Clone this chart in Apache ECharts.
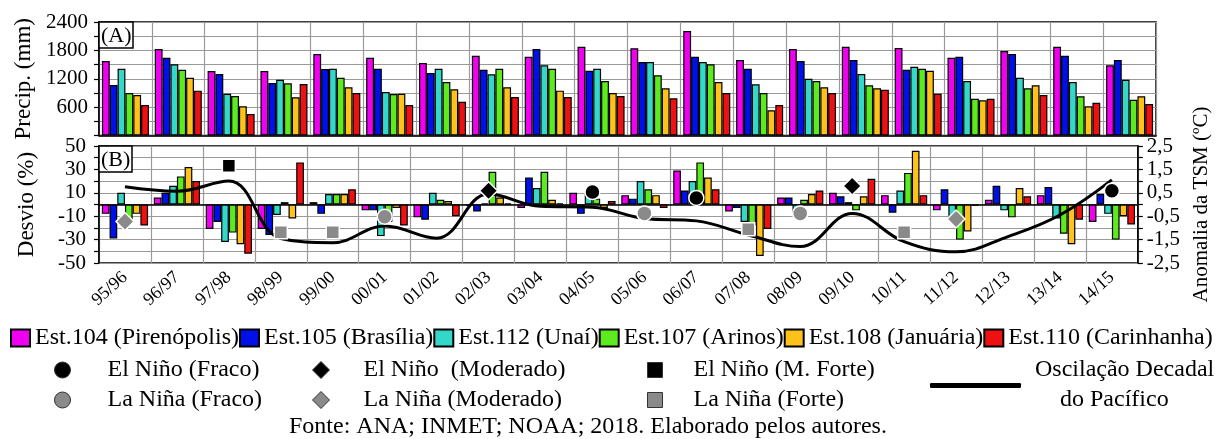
<!DOCTYPE html>
<html><head><meta charset="utf-8">
<script src="https://cdn.jsdelivr.net/npm/echarts@6/dist/echarts.min.js"></script>
<style>html,body{margin:0;padding:0;background:#fff}#c{width:1220px;height:439px}</style>
</head><body><div id="c"></div>
<script>
const categories = ['95/96','96/97','97/98','98/99','99/00','00/01','01/02','02/03','03/04','04/05','05/06','06/07','07/08','08/09','09/10','10/11','11/12','12/13','13/14','14/15'];
const stationNames = ['Est.104 (Pirenópolis)','Est.105 (Brasília)','Est.112 (Unaí)','Est.107 (Arinos)','Est.108 (Januária)','Est.110 (Carinhanha)'];
const stationColors = ['#F000F0','#0010E8','#33D8C8','#5CEB1E','#FFC21A','#EE1111'];

// Panel A: precipitation (mm)
const precip104 = [1575,1829,1364,1364,1723,1645,1533,1687,1666,1877,1843,2209,1596,1829,1877,1850,1645,1786,1877,1484];
const precip105 = [1068,1645,1300,1110,1406,1412,1321,1391,1829,1370,1554,1666,1412,1575,1596,1391,1666,1723,1687,1596];
const precip112 = [1412,1505,884,1180,1412,920,1412,1294,1484,1412,1554,1554,1082,1201,1300,1455,1152,1222,1131,1180];
const precip107 = [898,1391,835,1103,1222,877,1131,1412,1412,1152,1272,1505,898,1152,1061,1412,778,998,829,757];
const precip108 = [856,1222,617,807,1019,884,977,1019,948,898,998,1131,532,1019,998,1370,744,1061,617,829];
const precip110 = [645,948,455,1089,898,645,715,814,814,835,786,898,645,898,968,884,778,856,693,666];

// Panel B: deviation (%)
const desvio104 = [-8,6,-21,-21,2,-5,-11,-1,-3,10,8,29,-6,6,10,8,-5,4,8,-15];
const desvio105 = [-29,10,-15,-26,-8,-5,-13,-6,23,-8,5,12,-3,6,7,-7,13,16,15,9];
const desvio112 = [10,16,-32,-9,9,-27,10,1,14,9,20,20,-15,-7,2,12,-12,-5,-12,-8];
const desvio107 = [-15,24,-24,2,9,-15,4,28,28,5,13,36,-18,4,-5,27,-30,-11,-25,-30];
const desvio108 = [-8,32,-34,-12,9,-3,3,6,4,-3,8,23,-44,9,7,46,-23,14,-34,-10];
const desvio110 = [-18,20,-42,36,13,-18,-10,1,1,3,-3,13,-21,12,22,8,-1,7,-13,-17];

// SST anomaly markers (°C, right axis)
const elNinoFraco     = [null,null,null,null,null,null,null,null,null,0.53,null,0.28,null,null,null,null,null,null,null,0.59];
const elNinoModerado  = [null,null,null,null,null,null,null,0.59,null,null,null,null,null,null,0.79,null,null,null,null,null];
const elNinoMForte    = [null,null,1.66,null,null,null,null,null,null,null,null,null,null,null,null,null,null,null,null,null];
const laNinaFraco     = [null,null,null,null,null,-0.52,null,null,null,null,-0.38,null,null,-0.38,null,null,null,null,null,null];
const laNinaModerado  = [-0.73,null,null,null,null,null,null,null,null,null,null,null,null,null,null,null,-0.62,null,null,null];
const laNinaForte     = [null,null,null,-1.19,-1.19,null,null,null,null,null,null,null,-1.06,null,null,-1.19,null,null,null,null];
// Pacific Decadal Oscillation (°C)
const pdo = [0.76,0.57,1.0,-1.45,-1.63,-0.92,-1.44,0.45,-0.08,-0.12,-0.6,-0.7,-1.3,-1.8,-0.38,-1.59,-2.02,-1.37,-0.45,1.05];

const precipTicks = [600,1200,1800,2400];
const desvioTicks = [-50,-30,-10,10,30,50];
const tsmTicks = [-2.5,-1.5,-0.5,0.5,1.5,2.5];

const FONT = '"Liberation Serif", "Times New Roman", Times, serif';
const precipData = [precip104,precip105,precip112,precip107,precip108,precip110];
const desvioData = [desvio104,desvio105,desvio112,desvio107,desvio108,desvio110];

const series = [];
stationNames.forEach((n,i)=>{
  series.push({name:n,type:'bar',xAxisIndex:0,yAxisIndex:0,data:precipData[i],
    barGap:'0%',barCategoryGap:'11%',
    itemStyle:{color:stationColors[i],borderColor:'#000',borderWidth:1.2}});
});
stationNames.forEach((n,i)=>{
  series.push({name:n,type:'bar',xAxisIndex:1,yAxisIndex:1,data:desvioData[i],
    barGap:'0%',barCategoryGap:'11%',
    itemStyle:{color:stationColors[i],borderColor:'#000',borderWidth:1.2}});
});
series.push({name:'Oscilação Decadal do Pacífico',type:'line',xAxisIndex:1,yAxisIndex:2,data:pdo,
  smooth:0.4,symbol:'none',lineStyle:{color:'#000',width:3},itemStyle:{color:'#000'},z:5});
const markerDefs = [
  ['El Niño (Fraco)',elNinoFraco,'circle',15,'#000'],
  ['El Niño  (Moderado)',elNinoModerado,'diamond',18,'#000'],
  ['El Niño (M. Forte)',elNinoMForte,'rect',13,'#000'],
  ['La Niña (Fraco)',laNinaFraco,'circle',15,'#8a8a8a'],
  ['La Niña (Moderado)',laNinaModerado,'diamond',18,'#8a8a8a'],
  ['La Niña (Forte)',laNinaForte,'rect',13,'#8a8a8a']
];
markerDefs.forEach(m=>{
  series.push({name:m[0],type:'scatter',xAxisIndex:1,yAxisIndex:2,data:m[1],symbol:m[2],symbolSize:m[3],
    itemStyle:{color:m[4],borderColor:'#fff',borderWidth:1.5,opacity:1},z:10});
});

const gridLine = {show:true,lineStyle:{color:'#9a9a9a',width:1.2}};
const axisBlack = {show:true,lineStyle:{color:'#000',width:1.5}};
const tickBlack = {show:true,length:5,lineStyle:{color:'#000',width:1.2}};

const legendText = {fontFamily:FONT,fontSize:24,color:'#000'};
const markerLegend = (name,left,top,w,h,pad)=>({
  data:[name],left:left,top:top,orient:'horizontal',padding:0,itemWidth:w,itemHeight:h,
  selectedMode:false,itemStyle:{borderColor:'#333',borderWidth:1},
  textStyle:Object.assign({},legendText,{padding:[0,0,0,pad]})
});

const option = {
  animation:false,
  backgroundColor:'#fff',
  title:[
    {text:'(A)',left:99,top:22,padding:[3,2,1,2],borderColor:'#000',borderWidth:1.5,backgroundColor:'#fff',
      textStyle:{fontFamily:FONT,fontSize:22,fontWeight:'normal',color:'#000'}},
    {text:'(B)',left:99,top:146,padding:[3,2,1,2],borderColor:'#000',borderWidth:1.5,backgroundColor:'#fff',
      textStyle:{fontFamily:FONT,fontSize:22,fontWeight:'normal',color:'#000'}},
    {text:'Fonte: ANA; INMET; NOAA; 2018. Elaborado pelos autores.',left:289,top:415,padding:0,
      textStyle:{fontFamily:FONT,fontSize:24,fontWeight:'normal',color:'#000'}}
  ],
  legend:[
    {data:stationNames,left:10,top:326,padding:0,itemGap:0,itemWidth:19,itemHeight:17,selectedMode:false,
      icon:'rect',textStyle:legendText},
    markerLegend('El Niño (Fraco)',54,358,16,16,32),
    markerLegend('La Niña (Fraco)',54,388,16,16,32),
    markerLegend('El Niño  (Moderado)',312,358,17,17,29),
    markerLegend('La Niña (Moderado)',312,388,17,17,29),
    markerLegend('El Niño (M. Forte)',647,358,15,15,26),
    markerLegend('La Niña (Forte)',647,388,15,15,26),
    {data:[{name:'Oscilação Decadal do Pacífico',icon:'roundRect'}],left:930,top:383,padding:0,itemWidth:91,itemHeight:5,
      selectedMode:false,formatter:()=>'',itemStyle:{color:'#000',borderWidth:0},textStyle:legendText}
  ],
  graphic:[
    {type:'text',left:1035,top:358,style:{text:'Oscilação Decadal',fontFamily:FONT,fontSize:24,fill:'#000'}},
    {type:'text',left:1060,top:388,style:{text:'do Pacífico',fontFamily:FONT,fontSize:24,fill:'#000'}}
  ],
  grid:[
    {left:99,right:64,top:22,height:113.5,show:true,borderColor:'#000',borderWidth:1.5,backgroundColor:'transparent'},
    {left:99,right:64,top:146,height:117,show:true,borderColor:'#000',borderWidth:1.5,backgroundColor:'transparent'}
  ],
  xAxis:[
    {type:'category',gridIndex:0,data:categories,axisLine:axisBlack,axisTick:{show:false},axisLabel:{show:false},
      splitLine:gridLine},
    {type:'category',gridIndex:1,data:categories,axisLine:axisBlack,axisTick:{show:false},splitLine:gridLine,
      axisLabel:{show:true,interval:0,rotate:42,margin:12,fontFamily:FONT,fontSize:18,color:'#000'}}
  ],
  yAxis:[
    {type:'value',gridIndex:0,min:0,max:2400,interval:300,name:'Precip. (mm)',nameLocation:'middle',nameGap:61,
      nameTextStyle:{fontFamily:FONT,fontSize:23,color:'#000'},
      axisLine:axisBlack,axisTick:tickBlack,splitLine:gridLine,
      axisLabel:{margin:11,fontFamily:FONT,fontSize:21,color:'#000',
        formatter:v=>precipTicks.indexOf(v)>=0?String(v):''}},
    {type:'value',gridIndex:1,min:-50,max:50,interval:10,name:'Desvio (%)',nameLocation:'middle',nameGap:61,
      nameTextStyle:{fontFamily:FONT,fontSize:23,color:'#000'},
      axisLine:axisBlack,axisTick:tickBlack,splitLine:gridLine,
      axisLabel:{margin:13,fontFamily:FONT,fontSize:21,color:'#000',
        formatter:v=>desvioTicks.indexOf(Math.round(v))>=0?String(Math.round(v)):''}},
    {type:'value',gridIndex:1,position:'right',min:-2.5,max:2.5,interval:0.5,name:'Anomalia da TSM (ºC)',
      nameLocation:'middle',nameGap:42,nameRotate:90,
      nameTextStyle:{fontFamily:FONT,fontSize:21,color:'#000'},
      axisLine:axisBlack,axisTick:tickBlack,splitLine:{show:false},
      axisLabel:{margin:9,fontFamily:FONT,fontSize:21,color:'#000',
        formatter:v=>{const r=Math.round(v*10)/10;return tsmTicks.indexOf(r)>=0?r.toFixed(1).replace('.',','):'';}}}
  ],
  series:series
};
const chart = echarts.init(document.getElementById('c'),null,{renderer:'canvas'});
chart.setOption(option);
</script>
</body></html>
